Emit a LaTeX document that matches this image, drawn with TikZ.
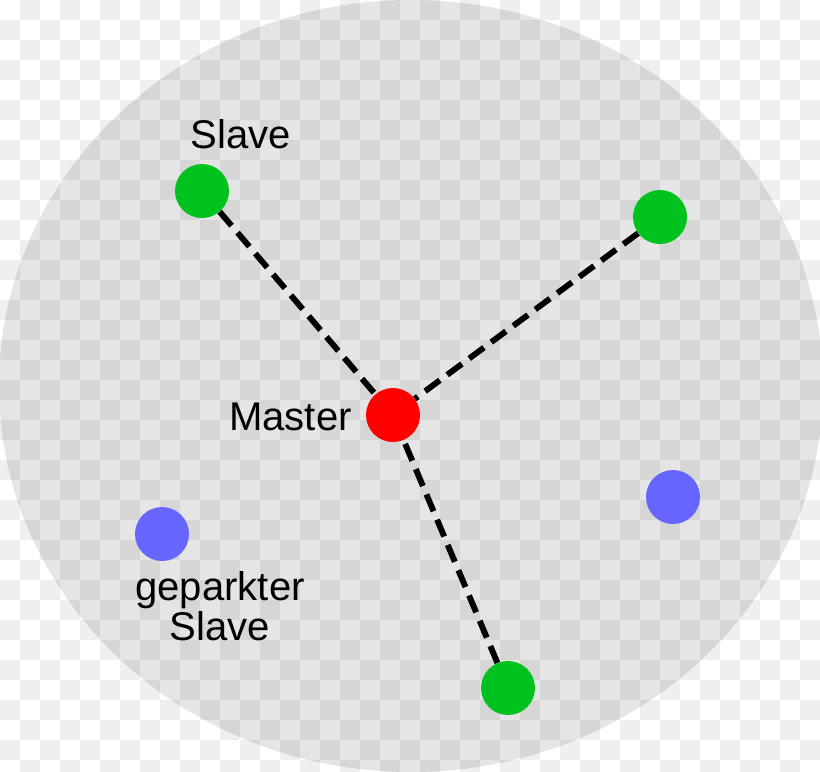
\documentclass[tikz,border=0pt]{standalone}
\usepackage{fontspec}
\setmainfont{Liberation Sans}
\usepackage{tikz}
\usetikzlibrary{positioning}

\definecolor{checkgray}{HTML}{EFEFEF}
\definecolor{slavegreen}{HTML}{00C21E}
\definecolor{masterred}{HTML}{FF0000}
\definecolor{parkedblue}{HTML}{6666FF}

\tikzset{
  station/.style={circle, inner sep=0, minimum size=1.35cm, draw=none},
  slave/.style={station, fill=slavegreen},
  master/.style={station, fill=masterred},
  parked/.style={station, fill=parkedblue},
  link/.style={black, line width=4.2pt, dash pattern=on 13pt off 6.5pt},
  lbl/.style={font=\fontsize{28.5}{28.5}\selectfont, inner sep=0, align=center}
}

\begin{document}
\begin{tikzpicture}[x=0.025cm, y=-0.025cm]
\useasboundingbox (0,0) rectangle (820,771);
\clip (0,0) rectangle (820,771);
\fill[white] (0,0) rectangle (820,771);
% checker background
\foreach \x in {0,40,...,800} {
 \foreach \y in {0,40,...,760} {
  \fill[checkgray] (\x+20,\y) rectangle ++(20,20);
  \fill[checkgray] (\x,\y+20) rectangle ++(20,20);
 };
};
% piconet
\fill[black, fill opacity=0.1] (411,386) ellipse [x radius=412, y radius=386];

\node[master] (master) at (393,415) {};
\node[slave] (slaveA) at (202,191) {};
\node[slave] (slaveB) at (660,217) {};
\node[slave] (slaveC) at (508,688) {};
\node[parked] (parkedA) at (162,534) {};
\node[parked] (parkedB) at (673,497) {};

\draw[link] (slaveA) -- (master);
\draw[link] (slaveB) -- (master);
\draw[link] (slaveC) -- (master);

\node[lbl] (slaveText) at (241,134) {Slave};
\node[lbl, anchor=east] (masterText) at (352,417) {Master};
\node[lbl] (parkedText) at (220,606) {geparkter\\Slave};
\end{tikzpicture}
\end{document}
